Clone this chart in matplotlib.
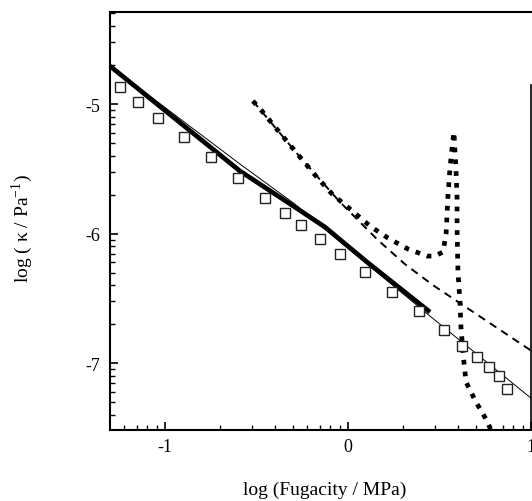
import numpy as np
import matplotlib
matplotlib.use("Agg")
import matplotlib.pyplot as plt
from matplotlib.ticker import FixedLocator, NullFormatter

plt.rcParams['font.family'] = ['Liberation Serif', 'DejaVu Serif']
plt.rcParams['mathtext.fontset'] = 'stix'
plt.rcParams['axes.unicode_minus'] = False

# experimental points (open squares)
exp_x = [-1.246, -1.148, -1.038, -0.896, -0.749, -0.601, -0.454, -0.344, -0.257, -0.153,
         -0.044, 0.093, 0.240, 0.388, 0.525, 0.623, 0.705, 0.770, 0.825, 0.869]
exp_y = [-4.869, -4.985, -5.108, -5.255, -5.409, -5.571, -5.725, -5.841, -5.934, -6.042,
         -6.157, -6.296, -6.451, -6.597, -6.744, -6.867, -6.952, -7.029, -7.099, -7.199]

# thick solid curve
thick_x = [-1.30, -0.590, -0.290, -0.126, 0.104, 0.448]
thick_y = [-4.707, -5.517, -5.795, -5.949, -6.219, -6.605]

# thin solid curve
thin_x = [-1.30, -0.590, -0.290, 0.448, 1.00]
thin_y = [-4.707, -5.463, -5.772, -6.636, -7.269]

# dashed curve
dash_x = [-0.519, -0.262, -0.044, 0.158, 0.311, 0.464, 1.00]
dash_y = [-4.977, -5.409, -5.756, -6.042, -6.235, -6.397, -6.902]

# dotted curve (with spike)
dot_x = [-0.519, -0.470, -0.344, -0.262, -0.175, -0.087, 0.011, 0.120, 0.219, 0.328,
         0.432, 0.475, 0.519, 0.536, 0.546, 0.557, 0.568, 0.579, 0.590, 0.596,
         0.596, 0.601, 0.612, 0.617, 0.628, 0.645, 0.672, 0.699, 0.732, 0.760, 0.781, 0.798]
dot_y = [-4.977, -5.054, -5.270, -5.409, -5.556, -5.694, -5.810, -5.941, -6.034, -6.119,
         -6.173, -6.173, -6.142, -6.003, -5.718, -5.502, -5.347, -5.216, -5.502, -5.718,
         -5.965, -6.296, -6.528, -6.713, -6.914, -7.145, -7.222, -7.299, -7.377, -7.446, -7.515, -7.57]

fig = plt.figure(figsize=(5.32, 5.02), dpi=100)
ax = fig.add_axes([110 / 532, 71 / 502, 421 / 532, 418 / 502])

ax.plot(thin_x, thin_y, color='black', lw=0.7)
ax.plot(thick_x, thick_y, color='black', lw=3.4, solid_capstyle='butt')
ax.plot(dash_x, dash_y, color='black', lw=1.4, dashes=(4, 3))
ax.plot(dot_x, dot_y, color='black', lw=3.4, dashes=(1, 1.5))
ax.plot(exp_x, exp_y, 's', ms=7.4, mfc='white', mec='#222222', mew=1.0, ls='none')

ax.set_xlim(-1.30, 1.0)
ax.set_ylim(-7.515, -4.29)

ax.set_xticks([-1, 0, 1])
ax.set_xticklabels(['-1', '0', '1'])
ax.set_yticks([-7, -6, -5])
ax.set_yticklabels(['-7', '-6', '-5'])

logs = np.log10(np.arange(2, 10))
ax.xaxis.set_minor_locator(FixedLocator([n + l for n in range(-2, 1) for l in logs]))
ax.yaxis.set_minor_locator(FixedLocator([n + l for n in range(-8, -4) for l in logs]))
ax.xaxis.set_minor_formatter(NullFormatter())
ax.yaxis.set_minor_formatter(NullFormatter())

ax.tick_params(which='major', direction='in', length=6, width=1.2, labelsize=13)
ax.tick_params(which='minor', direction='in', length=3.5, width=1.0)
ax.tick_params(axis='y', which='major', pad=7)
ax.tick_params(axis='x', which='major', pad=6)
ax.tick_params(top=False, right=False, which='both')

for s in ['left', 'bottom', 'top']:
    ax.spines[s].set_linewidth(1.5)
ax.spines['right'].set_linewidth(1.2)
ax.spines['right'].set_bounds(-7.515, -4.85)

ax.set_xlabel('log (Fugacity / MPa)', fontsize=14)
ax.xaxis.label.set_verticalalignment('center')
ax.xaxis.set_label_coords((325 - 110) / 421, (431 - 490) / 418)

ax.set_ylabel('log ( κ / Pa$^{\\mathregular{-1}}$)', fontsize=14)
ax.yaxis.label.set_verticalalignment('center')
ax.yaxis.set_label_coords((22 - 110) / 421, (431 - 228) / 418)

fig.savefig('out.png', dpi=100)
